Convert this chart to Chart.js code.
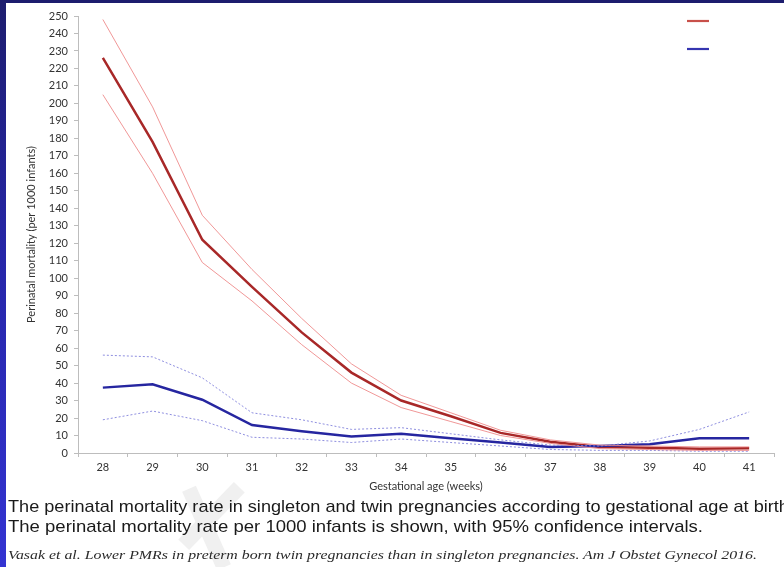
<!DOCTYPE html>
<html>
<head>
<meta charset="utf-8">
<script src="https://cdn.jsdelivr.net/npm/chart.js@4"></script>
<style>
  html, body { margin: 0; padding: 0; }
  body { width: 784px; height: 567px; position: relative; overflow: hidden; background: #ffffff; }
  #topband { position: absolute; left: 0; top: 0; width: 784px; height: 3px; background: #1d1d6e; }
  #leftband { position: absolute; left: 0; top: 0; width: 6px; height: 567px;
              background: linear-gradient(to bottom, #1d1d6e 0%, #2626a8 45%, #3434d2 100%); }
  .wm { position: absolute; width: 15px; background: #f0f0f0; transform-origin: 50% 50%; }
  #wrap { position: absolute; left: 0; top: 0; width: 784px; height: 500px; }
  .cap { position: absolute; left: 8px; white-space: nowrap; transform-origin: 0 0; }
  .c1 { font-family: "Liberation Sans", Arial, sans-serif; font-size: 17px; color: #1a1a1a; }
  .c3 { font-family: "Liberation Serif", "DejaVu Serif", serif; font-style: italic; font-size: 12.5px; color: #2a2a2a; }
</style>
</head>
<body>
<div id="topband"></div>
<div id="leftband"></div>
<div class="wm" style="left:204px; top:476px; height:80px; transform: rotate(44deg);"></div>
<div class="wm" style="left:199px; top:485px; height:86px; transform: rotate(-24deg);"></div>
<div id="wrap"><canvas id="chart" width="784" height="500"></canvas></div>
<div class="cap c1" id="line1" style="top:497px">The perinatal mortality rate in singleton and twin pregnancies according to gestational age at birth.</div>
<div class="cap c1" id="line2" style="top:517px">The perinatal mortality rate per 1000 infants is shown, with 95% confidence intervals.</div>
<div class="cap c3" id="line3" style="top:548px">Vasak et al. Lower PMRs in preterm born twin pregnancies than in singleton pregnancies. Am J Obstet Gynecol 2016.</div>
<script>
// Gestational age categories (weeks)
const weeks = ['28','29','30','31','32','33','34','35','36','37','38','39','40','41'];

// Perinatal mortality per 1000 infants — singleton pregnancies
const singleton      = [226, 178, 122, 95, 69, 46, 30, 21, 11.5, 6.5, 3.5, 3, 2.5, 2.7];
const singletonUpper = [248, 198, 136, 105, 77, 51, 33, 23, 13, 7.5, 4.5, 4, 3.5, 3.5];
const singletonLower = [205, 160, 109, 87, 62, 40, 26, 18, 10, 5.5, 2.5, 2, 1.5, 1.5];

// Perinatal mortality per 1000 infants — twin pregnancies
const twin      = [37.4, 39.3, 30.5, 16, 12.5, 9.5, 11, 8.5, 6, 3.5, 4, 5, 8.4, 8.4];
const twinUpper = [56, 55, 43, 23, 19, 13.5, 14.5, 11, 7.5, 4.5, 4, 6.9, 13.5, 23.5];
const twinLower = [19, 24, 18.5, 9, 8, 6, 8, 6, 4, 2, 1.5, 1.5, 1, 1];

// Y axis range and step
const yMin = 0, yMax = 250, yStep = 10;

const axisFont = { family: 'Lato, "Open Sans", sans-serif', size: 11 };
const axisColor = '#bdbdbd';
const textColor = '#333333';

// Short line swatches in the top-right corner (no labels)
const swatches = {
  id: 'swatches',
  afterDraw(chart) {
    const ctx = chart.ctx;
    const items = [
      { color: '#c8504a', y: 21 },
      { color: '#3535b0', y: 49 }
    ];
    ctx.save();
    ctx.lineWidth = 2.2;
    items.forEach(it => {
      ctx.strokeStyle = it.color;
      ctx.beginPath();
      ctx.moveTo(687, it.y);
      ctx.lineTo(709, it.y);
      ctx.stroke();
    });
    ctx.restore();
  }
};

function line(data, color, width, dash) {
  return {
    data: data,
    borderColor: color,
    borderWidth: width,
    borderDash: dash || [],
    pointRadius: 0,
    tension: 0,
    fill: false
  };
}

new Chart(document.getElementById('chart'), {
  type: 'line',
  data: {
    labels: weeks,
    datasets: [
      line(singletonUpper, 'rgba(238,140,140,0.9)', 1),
      line(singletonLower, 'rgba(238,140,140,0.9)', 1),
      line(twinUpper, 'rgba(130,130,220,0.9)', 1, [2, 2]),
      line(twinLower, 'rgba(130,130,220,0.9)', 1, [2, 2]),
      line(twin, '#2626a0', 2.5),
      line(singleton, '#a82828', 2.5)
    ]
  },
  options: {
    responsive: false,
    animation: false,
    layout: { padding: { left: 0, top: 16, right: 10, bottom: 0 } },
    plugins: { legend: { display: false }, tooltip: { enabled: false } },
    scales: {
      x: {
        offset: true,
        grid: { offset: true, drawOnChartArea: false, color: axisColor, tickLength: 4 },
        border: { color: axisColor, width: 1 },
        ticks: { font: axisFont, color: textColor, padding: 4, maxRotation: 0 },
        title: { display: true, text: 'Gestational age (weeks)', font: axisFont, color: textColor,
                 padding: { top: 0, bottom: 7 } },
        afterFit(scale) { scale.height = 47; }
      },
      y: {
        min: yMin, max: yMax,
        grid: { drawOnChartArea: false, color: axisColor, tickLength: 4 },
        border: { color: axisColor, width: 1 },
        ticks: { stepSize: yStep, font: axisFont, color: textColor, padding: 6, autoSkip: false },
        title: { display: true, text: 'Perinatal mortality (per 1000 infants)', font: axisFont, color: textColor,
                 padding: { top: 25, bottom: 0 } },
        afterFit(scale) { scale.width = 78; }
      }
    }
  },
  plugins: [swatches]
});

// Fit caption lines to their widths
function fitWidth(id, w) {
  const el = document.getElementById(id);
  const s = w / el.getBoundingClientRect().width;
  el.style.transform = 'scaleX(' + s + ')';
}
fitWidth('line1', 786);
fitWidth('line2', 695);
fitWidth('line3', 749);
</script>
</body>
</html>
